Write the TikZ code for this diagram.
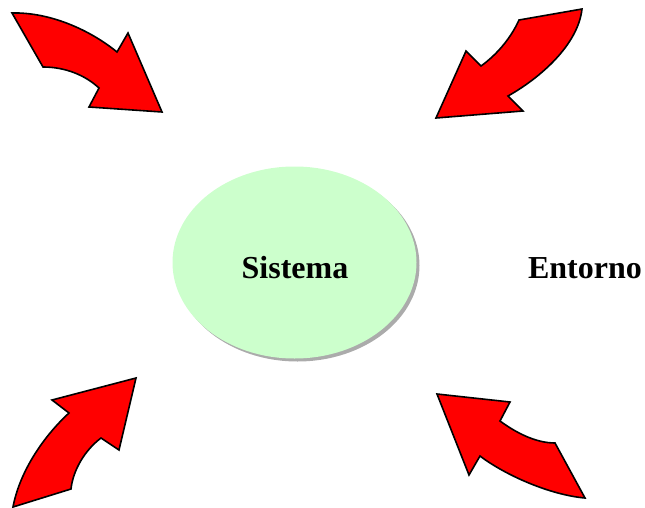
\documentclass[tikz,border=0pt]{standalone}
\usepackage{fontspec}
\setmainfont{Liberation Serif}
\usetikzlibrary{shapes.geometric,shadows}
\definecolor{sysgreen}{HTML}{CCFFCC}
\begin{document}
\begin{tikzpicture}[x=1pt,y=-1pt,
  bigarrow/.style={fill=red,draw=black,line width=1.6pt,line join=miter},
  label/.style={font=\fontsize{32}{38}\selectfont\bfseries,inner sep=0pt}]
\useasboundingbox (0,0) rectangle (645,508);

% system ellipse with a soft shadow
\node[ellipse,fill=sysgreen,minimum width=244pt,minimum height=192pt,inner sep=0pt,
      drop shadow={shadow xshift=3pt,shadow yshift=-3pt,fill=black!55,opacity=0.6}]
      (sys) at (294.5,262.5) {};
\node[label] (systxt) at (295,268) {Sistema};
\node[label] (env) at (585,268) {Entorno};

% curved arrow, top left
\draw[bigarrow] (12,13) .. controls (50,12) and (90,30) .. (117,52)
  -- (128,33) -- (162,112) -- (89,107) -- (99,88)
  .. controls (85,75) and (65,67) .. (43,67) -- cycle;

% curved arrow, top right
\draw[bigarrow] (582,9) -- (519,20)
  .. controls (510,40) and (495,56) .. (481,66)
  -- (466,51) -- (436,118) -- (523,111) -- (508,96)
  .. controls (540,78) and (578,45) .. (582,9) -- cycle;

% curved arrow, bottom left
\draw[bigarrow] (136,378) -- (52,400) -- (69,413)
  .. controls (45,435) and (20,470) .. (13,507)
  -- (71,489) .. controls (73,470) and (85,450) .. (101,438)
  -- (119,450) -- cycle;

% curved arrow, bottom right
\draw[bigarrow] (437,394) -- (510,402) -- (500,421)
  .. controls (515,432) and (535,443) .. (555,443)
  -- (585,498) .. controls (550,495) and (505,475) .. (480,456)
  -- (469,475) -- cycle;
\end{tikzpicture}
\end{document}
